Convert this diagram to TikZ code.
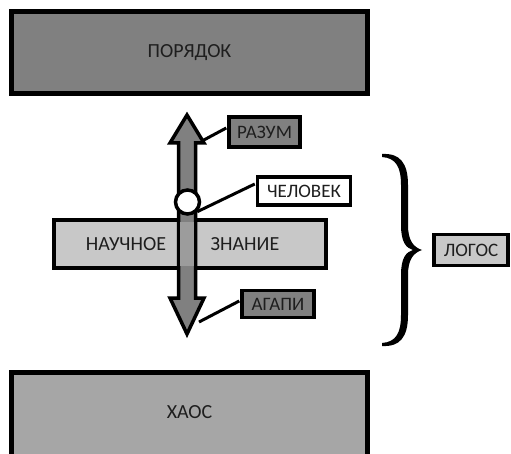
\documentclass[tikz,border=0pt]{standalone}
\usepackage{fontspec}
\setmainfont{Carlito}
\definecolor{gdark}{HTML}{808080}
\definecolor{gmid}{HTML}{A6A6A6}
\definecolor{glight}{HTML}{C8C8C8}
\definecolor{gshaft}{HTML}{9C9C9C}
\definecolor{txt}{HTML}{1E1E1E}
\tikzset{
  bigbox/.style={draw=black, line width=5pt, minimum width=356pt, minimum height=82pt, inner sep=0pt, font=\fontsize{20}{24}\selectfont, text=txt},
  lbl/.style={draw=black, line width=3.5pt, inner sep=0pt, font=\fontsize{19}{22}\selectfont, text=txt},
  conn/.style={draw=black, line width=3pt},
  plain/.style={font=\fontsize{20}{24}\selectfont, text=txt},
}
\begin{document}
\begin{tikzpicture}[x=1pt,y=-1pt]
\useasboundingbox (0,0) rectangle (511,454);
% big boxes
\node[bigbox, fill=gdark] (order) at (189.5,52.5) {ПОРЯДОК};
\node[bigbox, fill=gmid, minimum height=90pt] (chaos) at (189.5,417.5) {};
\node[plain] (chaostxt) at (189.5,412) {ХАОС};
% knowledge box
\node[draw=black, line width=4pt, fill=glight, minimum width=272pt, minimum height=48pt, inner sep=0pt] (know) at (190,244) {};
\node[plain] (kn1) at (126,244) {НАУЧНОЕ};
\node[plain] (kn2) at (245,244) {ЗНАНИЕ};
% double arrow
\filldraw[fill=gdark, draw=black, line width=3.5pt, line join=miter]
  (187,115) -- (204,143) -- (195.5,143) -- (195.5,298) -- (204,298) -- (187,334)
  -- (170,298) -- (178.5,298) -- (178.5,143) -- (170,143) -- cycle;
\fill[gshaft] (180.3,222) rectangle (193.7,266);
\draw[black, line width=3.5pt] (178.5,218) -- (178.5,270) (195.5,218) -- (195.5,270);
% circle
\node[circle, draw=black, line width=3.5pt, fill=white, minimum size=24pt, inner sep=0pt] (man) at (187.5,202) {};
% labels
\node[lbl, fill=gdark, minimum width=71pt, minimum height=30pt] (reason) at (264.5,132) {РАЗУМ};
\node[lbl, fill=white, minimum width=93pt, minimum height=28pt] (human) at (304,191) {ЧЕЛОВЕК};
\node[lbl, fill=gdark, minimum width=72pt, minimum height=27pt] (agape) at (278,304) {АГАПИ};
\node[lbl, fill=glight, minimum width=74pt, minimum height=31pt] (logos) at (471,250) {ЛОГОС};
% connectors
\coordinate (ra) at (202,141);
\coordinate (ag) at (199,322);
\draw[conn] (reason.west) ++(-1,-4) -- (ra);
\draw[conn] (human.west) ++(-1,-7) -- (man.south east);
\draw[conn] (agape.west) ++(-1,-3) -- (ag);
% brace (calligraphic, filled)
\fill[black] (382,154) .. controls (400,153) and (408,163) .. (408,185) -- (408,225)
  .. controls (408,240) and (413,247) .. (422,250)
  .. controls (413,253) and (408,260) .. (408,275) -- (408,315)
  .. controls (408,337) and (400,347) .. (382,346) -- (382,343)
  .. controls (396,342) and (401,333) .. (401,315) -- (401,275)
  .. controls (401,258) and (406,252) .. (413,250)
  .. controls (406,248) and (401,242) .. (401,225) -- (401,185)
  .. controls (401,167) and (396,158) .. (382,157) -- cycle;
\end{tikzpicture}
\end{document}
